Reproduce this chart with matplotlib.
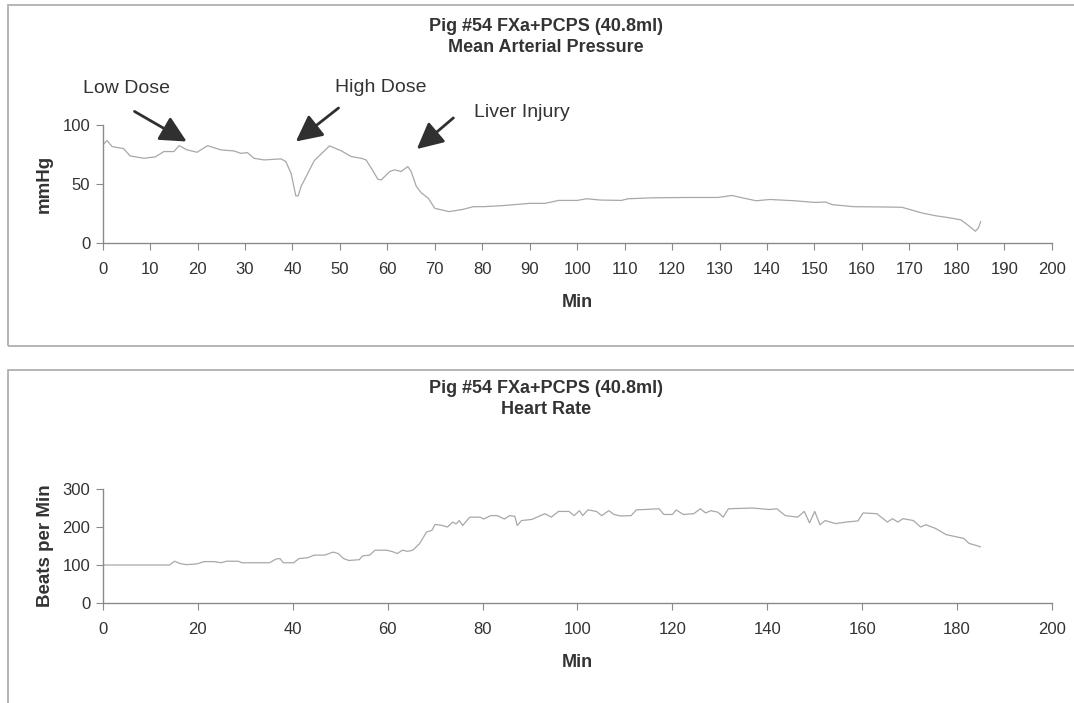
import matplotlib
matplotlib.use('Agg')
import matplotlib.pyplot as plt
from matplotlib.patches import Rectangle

plt.rcParams['font.family'] = ['Liberation Sans', 'DejaVu Sans']

title_top = 'Pig #54 FXa+PCPS (40.8ml)\nMean Arterial Pressure'
title_bottom = 'Pig #54 FXa+PCPS (40.8ml)\nHeart Rate'

# mean arterial pressure (min, mmHg)
map_min = [0, 0.9, 2, 4.4, 5.8, 8.7, 11.1, 12.9, 15, 16.1, 17.8, 19.9, 22.1, 24.9,
           27.7, 29.1, 30.5, 31.9, 34, 37.6, 38.6, 39.7, 40.7, 41.2, 41.8, 44.6,
           47.8, 50.2, 52.4, 54.5, 55.5, 56.6, 58, 58.7, 60.5, 61.5, 62.9, 64.3,
           65, 66.1, 67.2, 68.6, 70, 73, 75.9, 78.1, 80.3, 83.9, 87.6, 90, 93.2,
           96.1, 100, 102, 104.9, 109.3, 110.7, 115.8, 123.1, 129.7, 132.6, 134.8,
           137.7, 140.6, 145.8, 150.1, 152.3, 153.8, 158.2, 163.3, 168.4, 169.9,
           172.8, 175.7, 177.9, 180.8, 182.3, 183.9, 184.5, 185]
map_val = [83, 86.8, 81.7, 80, 73.8, 71.8, 73, 77.5, 77.5, 82.5, 78.9, 76.9, 82.5, 78.9,
           78, 76, 76.6, 71.8, 70.4, 71.3, 69, 59, 40, 40, 47.9, 69.9,
           82.3, 78.3, 73.2, 71.8, 70.4, 63.4, 54, 53.5, 60.6, 62, 60.6, 64.8,
           60.6, 47.9, 42.3, 38, 29.4, 26.6, 28.5, 30.8, 30.8, 31.6, 32.8, 33.6, 33.6,
           36.1, 36.1, 37.5, 36.4, 36.1, 37.5, 38.3, 38.6, 38.6, 40.3, 38.3,
           35.8, 36.9, 35.8, 34.4, 34.7, 32.5, 30.8, 30.6, 30.3, 28.6,
           25.3, 23, 21.7, 19.7, 15.3, 10, 12.5, 18]

# heart rate (min, beats per min)
hr_min = [0, 14, 15.1, 16.2, 17.6, 19.8, 21.3, 23.4, 24.9, 26, 28.5, 29.3, 35.1, 36.5,
          37.3, 38, 40.2, 41.3, 43.1, 44.5, 46.7, 48.5, 49.6, 50.7, 51.8, 54, 54.7,
          56.2, 57.3, 59.8, 61.3, 62, 63.1, 64.2, 65.3, 66.7, 68.2, 69.3, 70, 71.5,
          72.6, 73.7, 74.4, 75.1, 75.8, 77.3, 79.5, 80.2, 81.7, 83.1, 84.6, 85.7,
          86.8, 87.3, 88.2, 90.4, 93.1, 94.5, 96, 98.2, 99.3, 100.4, 101.1, 102.2,
          104, 105.1, 106.6, 107.7, 109.1, 111.3, 112.4, 117.2, 118.2, 120, 120.8,
          122.3, 124.5, 125.9, 127, 128.1, 129.6, 130.7, 131.8, 136.9, 140.5, 142,
          143.8, 146.4, 147.8, 148.9, 150, 151.1, 152.2, 154.4, 156.6, 159.1, 160.2,
          163.1, 165.3, 166.4, 167.5, 168.6, 170.8, 172.3, 173.4, 175.5, 177.7,
          179.9, 181.4, 182.5, 183.9, 184.9]
hr_val = [100, 100, 110, 104, 101, 103, 109, 109, 106, 110, 110, 106, 106, 116,
          117, 106, 106, 117, 119, 126, 126, 134, 130, 117, 112, 114, 124,
          126, 139, 139, 134, 130, 139, 136, 139, 156, 187, 191, 207, 204,
          200, 213, 208, 217, 204, 226, 226, 221, 230, 230, 221, 230,
          228, 204, 217, 220, 235, 226, 241, 241, 230, 243, 230, 245,
          241, 230, 243, 233, 229, 230, 245, 248, 233, 233, 245,
          233, 235, 248, 237, 243, 239, 226, 248, 250, 246, 248,
          230, 226, 241, 211, 241, 206, 217, 209, 213, 216, 237,
          235, 213, 222, 213, 222, 217, 200, 206, 196, 180,
          174, 170, 157, 152, 148]

events = ['Low Dose', 'High Dose', 'Liver Injury']
event_tip = [(17.7, 86), (40.7, 86), (66.2, 79.6)]
event_tail = [(6.7, 111.5), (49.7, 114.4), (73.9, 106)]
event_text = [(5.1, 131), (58.5, 131.5), (88.4, 111)]

line_col = '#a8a8a8'
axis_col = '#8a8a8a'
text_col = '#333333'

fig = plt.figure(figsize=(10.74, 7.03), dpi=100)

# panel frames
fig.patches.append(Rectangle((8 / 1074, 1 - 346 / 703), 1.1, 341 / 703, transform=fig.transFigure,
                             fill=False, edgecolor='#b0b0b0', lw=1.3))
fig.patches.append(Rectangle((8 / 1074, -0.1), 1.1, 0.1 + 1 - 370 / 703, transform=fig.transFigure,
                             fill=False, edgecolor='#b0b0b0', lw=1.3))


def style(ax):
    for s in ['top', 'right']:
        ax.spines[s].set_visible(False)
    for s in ['left', 'bottom']:
        ax.spines[s].set_color(axis_col)
        ax.spines[s].set_linewidth(1)
    ax.tick_params(direction='out', length=5, color=axis_col, labelsize=12,
                   labelcolor=text_col)
    ax.tick_params(axis='x', pad=9)
    ax.tick_params(axis='y', pad=4)


ax1 = fig.add_axes([0.0956, 0.6543, 0.8837, 0.1679])
ax1.plot(map_min, map_val, color=line_col, lw=0.9)
ax1.set_xlim(0, 200)
ax1.set_ylim(0, 100)
ax1.set_xticks(range(0, 201, 10))
ax1.set_yticks([0, 50, 100])
style(ax1)
ax1.set_xlabel('Min', fontsize=13, fontweight='bold', color=text_col, labelpad=12)
ax1.set_ylabel('mmHg', fontsize=13.5, fontweight='bold', color=text_col, labelpad=7)
fig.text(0.508, 1 - 37 / 703, title_top, ha='center', va='center', fontsize=13,
         fontweight='bold', color=text_col, linespacing=1.35)

for name, tip, tail, pos in zip(events, event_tip, event_tail, event_text):
    ax1.annotate('', xy=tip, xytext=tail, annotation_clip=False,
                 arrowprops=dict(arrowstyle='-|>,head_length=0.8,head_width=0.4',
                                 mutation_scale=20, color='#303030', lw=2,
                                 shrinkA=0, shrinkB=0))
    ax1.text(pos[0], pos[1], name, ha='center', va='center', fontsize=14,
             color=text_col, clip_on=False)

ax2 = fig.add_axes([0.0959, 0.1422, 0.8836, 0.1622])
ax2.plot(hr_min, hr_val, color=line_col, lw=0.9)
ax2.set_xlim(0, 200)
ax2.set_ylim(0, 300)
ax2.set_xticks(range(0, 201, 20))
ax2.set_yticks([0, 100, 200, 300])
style(ax2)
ax2.set_xlabel('Min', fontsize=13, fontweight='bold', color=text_col, labelpad=12)
ax2.set_ylabel('Beats per Min', fontsize=13.5, fontweight='bold', color=text_col, labelpad=6)
fig.text(0.508, 1 - 399 / 703, title_bottom, ha='center', va='center', fontsize=13,
         fontweight='bold', color=text_col, linespacing=1.35)

fig.savefig('out.png', dpi=100)
